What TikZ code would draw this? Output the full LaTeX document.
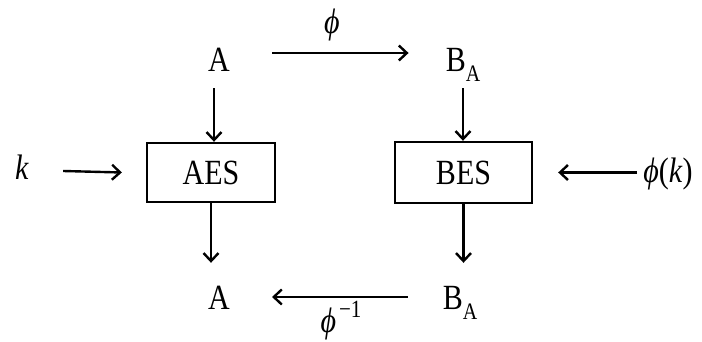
\documentclass[tikz,border=0pt]{standalone}
\usepackage{fontspec}
\usepackage{graphicx}
\setmainfont{Liberation Serif}
\usetikzlibrary{arrows.meta}
\newcommand\strtx[1]{\scalebox{1}[1.18]{#1}}
\newcommand\myphi{\textit{ϕ}}
\begin{document}
\begin{tikzpicture}[x=1pt,y=1pt,
  lbl/.style={inner sep=0pt,anchor=base,text height=24pt,text depth=0pt,font=\fontsize{30}{36}\selectfont},
  boxnode/.style={draw,line width=2.4pt,inner sep=0pt,font=\fontsize{30}{36}\selectfont},
  arr/.style={line width=2.4pt,-{Straight Barb[length=8pt,width=15pt,line width=2.4pt]}}]
\useasboundingbox (0,0) rectangle (702,342);
\node[lbl] (A1) at (219,270) {\strtx{A}};
\node[lbl] (B1) at (463,270) {\strtx{B\raisebox{-8pt}{\fontsize{20}{20}\selectfont A}}};
\node[lbl] (A2) at (219,32) {\strtx{A}};
\node[lbl] (B2) at (460,32) {\strtx{B\raisebox{-8pt}{\fontsize{20}{20}\selectfont A}}};
\node[lbl] (k) at (22,162) {\strtx{\textit{k}}};
\node[lbl] (phik) at (668,159) {\strtx{\myphi(\textit{k})}};
\node[lbl] (phi1) at (332,308) {\strtx{\myphi}};
\node[lbl] (phi2) at (341,9) {\strtx{\myphi\hspace{3pt}\raisebox{13pt}{\fontsize{21}{21}\selectfont −1}}};
\node[boxnode,minimum width=128pt,minimum height=59pt] (aes) at (211,169.5) {\strtx{AES}};
\node[boxnode,minimum width=137pt,minimum height=61pt] (bes) at (463.5,169.5) {\strtx{BES}};
\draw[arr] ([xshift=42pt,yshift=7pt]A1.east) -- ([xshift=-37pt,yshift=7pt]B1.west);
\draw[arr] ([xshift=-35pt,yshift=1pt]B2.west) -- ([xshift=42pt,yshift=1pt]A2.east);
\draw[arr] ([xshift=-5pt,yshift=-16pt]A1.south) -- ([xshift=-5pt]A1.south |- aes.north);
\draw[arr] ([yshift=-16pt]B1.south) -- (B1.south |- bes.north);
\draw[arr] (aes.south) -- ([yshift=23pt]aes.south |- A2.north);
\draw[arr] (bes.south) -- ([yshift=23pt]bes.south |- B2.north);
\draw[arr] ([xshift=34pt,yshift=-3pt]k.east) -- ([xshift=-24pt]aes.west);
\draw[arr] ([xshift=-6pt]phik.west |- bes.east) -- ([xshift=25pt]bes.east);
\end{tikzpicture}
\end{document}
